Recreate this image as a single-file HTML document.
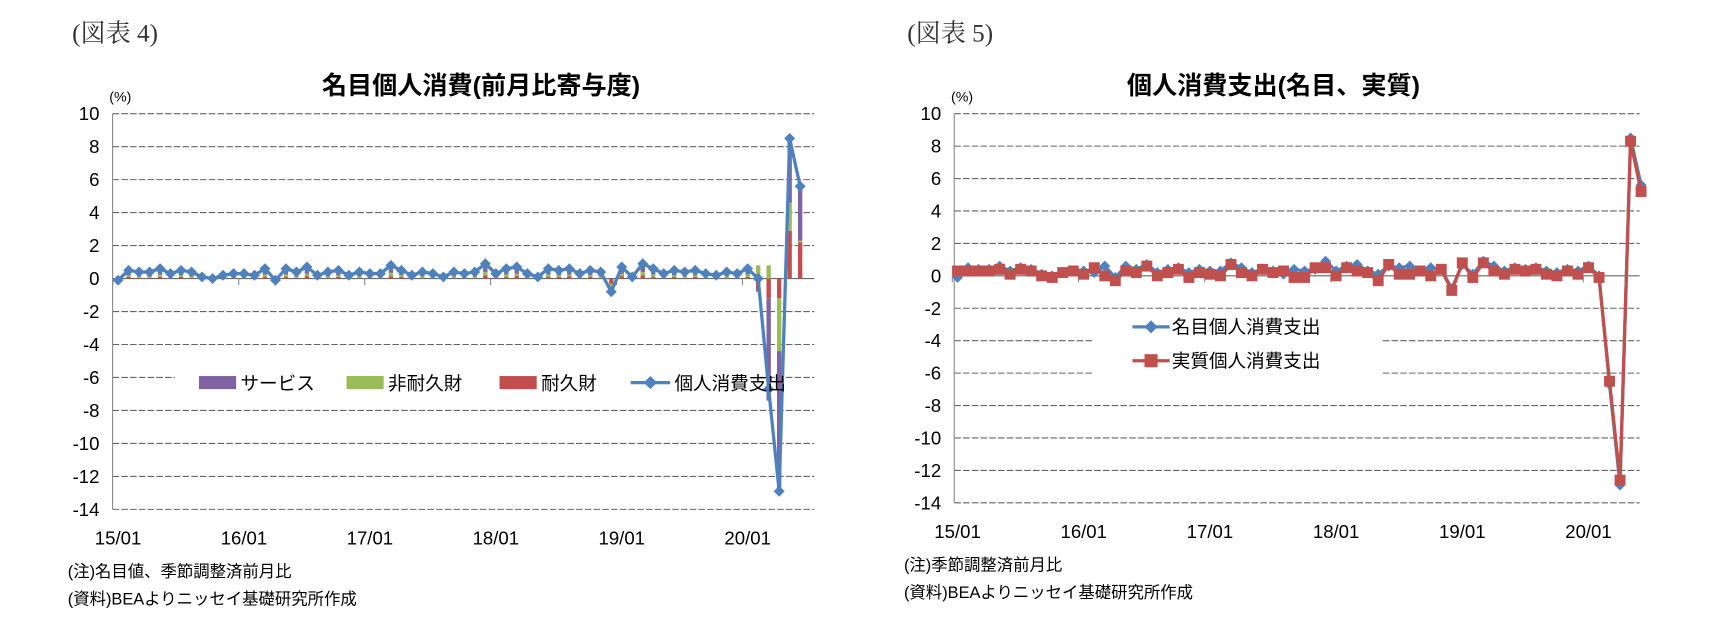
<!DOCTYPE html>
<html><head><meta charset="utf-8">
<style>
body{margin:0;background:#fff;}
svg{display:block;}
text{font-family:"Liberation Sans","Noto Sans CJK JP",sans-serif;}
.serif{font-family:"Liberation Serif","Noto Serif CJK SC",serif;}
</style></head>
<body>
<svg id="root" width="1714" height="627" viewBox="0 0 1714 627">
<rect width="1714" height="627" fill="#fff"/>
<g transform="scale(1.0931)">
<text class="serif" x="66" y="38" font-size="23" fill="#333">(図表 4)</text>
<text class="serif" x="830" y="38" font-size="23" fill="#333">(図表 5)</text>
<text x="440" y="86" font-size="23" font-weight="bold" text-anchor="middle">名目個人消費(前月比寄与度)</text>
<text x="1165" y="86" font-size="23" font-weight="bold" text-anchor="middle">個人消費支出(名目、実質)</text>
<text x="100" y="93" font-size="13">(%)</text>
<text x="870" y="93" font-size="13">(%)</text>
<text x="62" y="528" font-size="15">(注)名目値、季節調整済前月比</text>
<text x="62" y="553" font-size="15">(資料)BEAよりニッセイ基礎研究所作成</text>
<text x="827" y="522" font-size="15">(注)季節調整済前月比</text>
<text x="827" y="547" font-size="15">(資料)BEAよりニッセイ基礎研究所作成</text>
<g id="left"></g>
<g id="right"></g>
</g>
</svg>
<script>
const months = 66;
const yTicks = [10,8,6,4,2,0,-2,-4,-6,-8,-10,-12,-14];
const xLabels = ["15/01","16/01","17/01","18/01","19/01","20/01"];
const nominal = [-0.1,0.5,0.4,0.4,0.6,0.3,0.5,0.4,0.1,0.0,0.2,0.3,
 0.3,0.2,0.6,-0.1,0.6,0.4,0.7,0.2,0.4,0.5,0.2,0.4,
 0.3,0.3,0.8,0.5,0.2,0.4,0.3,0.1,0.4,0.3,0.4,0.9,
 0.3,0.6,0.7,0.3,0.1,0.6,0.5,0.6,0.3,0.5,0.4,-0.8,
 0.7,0.1,0.9,0.6,0.3,0.5,0.4,0.5,0.3,0.2,0.4,0.3,
 0.6,0.0,-6.7,-12.9,8.5,5.6];
const real = [0.3,0.3,0.3,0.3,0.4,0.1,0.4,0.3,0.0,-0.1,0.2,0.3,
 0.1,0.5,0.0,-0.3,0.3,0.2,0.6,0.0,0.2,0.4,-0.1,0.2,
 0.1,0.0,0.7,0.2,0.0,0.4,0.2,0.3,-0.1,-0.1,0.5,0.5,
 0.0,0.5,0.3,0.2,-0.3,0.7,0.1,0.1,0.3,0.0,0.4,-0.9,
 0.8,-0.1,0.8,0.3,0.1,0.4,0.3,0.4,0.1,0.0,0.3,0.1,
 0.5,-0.1,-6.5,-12.6,8.3,5.2];
const services = [-0.05,0.3,0.25,0.25,0.35,0.2,0.3,0.25,0.1,0.05,0.15,0.2,
 0.2,0.15,0.35,0.05,0.35,0.25,0.4,0.15,0.25,0.3,0.15,0.25,
 0.2,0.2,0.45,0.3,0.15,0.25,0.2,0.1,0.25,0.2,0.25,0.5,
 0.2,0.35,0.4,0.2,0.1,0.35,0.3,0.35,0.2,0.3,0.25,-0.3,
 0.4,0.1,0.5,0.35,0.2,0.3,0.25,0.3,0.2,0.15,0.25,0.2,
 0.35,-0.1,-6.2,-8.5,3.9,3.3];
const nondurables = [-0.05,0.1,0.1,0.1,0.15,0.05,0.1,0.1,0.0,-0.05,0.0,0.05,
 0.05,0.0,0.15,-0.1,0.15,0.1,0.15,0.0,0.1,0.1,0.0,0.1,
 0.05,0.05,0.2,0.1,0.0,0.1,0.05,0.0,0.1,0.05,0.1,0.2,
 0.05,0.15,0.15,0.05,0.0,0.15,0.1,0.1,0.05,0.1,0.1,-0.2,
 0.15,0.0,0.2,0.15,0.05,0.1,0.1,0.1,0.05,0.05,0.1,0.05,
 0.15,0.8,0.8,-3.2,1.7,0.1];
const durables = [0.0,0.1,0.05,0.05,0.1,0.05,0.1,0.05,0.0,0.0,0.05,0.05,
 0.05,0.05,0.1,0.0,0.1,0.05,0.15,0.05,0.05,0.1,0.05,0.05,
 0.05,0.05,0.15,0.1,0.05,0.05,0.05,0.0,0.05,0.05,0.05,0.2,
 0.05,0.1,0.15,0.05,0.0,0.1,0.1,0.15,0.05,0.1,0.05,-0.3,
 0.15,0.0,0.2,0.1,0.05,0.1,0.05,0.1,0.05,0.0,0.05,0.05,
 0.1,-0.7,-1.2,-1.2,2.9,2.2];
const NS="http://www.w3.org/2000/svg";
function mk(tag,attrs,parent){const e=document.createElementNS(NS,tag);for(const k in attrs)e.setAttribute(k,attrs[k]);parent.appendChild(e);return e;}
function diamond(x,y,r){return `M${x},${y-r} L${x+r},${y} L${x},${y+r} L${x-r},${y} Z`;}

function axes(g,cfg){
  const yS=v=>cfg.top+(10-v)*(cfg.bottom-cfg.top)/24;
  const xS=i=>cfg.x0+i*cfg.step;
  yTicks.forEach(t=>{
    const l=mk('line',{x1:cfg.left,x2:cfg.right,y1:yS(t),y2:yS(t),stroke:'#666','stroke-width':1,'stroke-dasharray':t===0?'':'6,2'},g);
    
    
    const tx=mk('text',{x:cfg.left-12,y:yS(t)+6,'font-size':17,'text-anchor':'end'},g);
    tx.textContent=t;
    
    
  });
  const ax=mk('line',{x1:cfg.left,x2:cfg.left,y1:cfg.top,y2:cfg.bottom,stroke:'#888'},g);
  
  
  xLabels.forEach((s,k)=>{
    const x=xS(k*12);
    mk('line',{x1:x-cfg.step/2,x2:x-cfg.step/2,y1:yS(0),y2:yS(0)+6,stroke:'#888'},g);
    const tx=mk('text',{x:x,y:cfg.bottom+32,'font-size':17,'text-anchor':'middle'},g);
    tx.textContent=s;
    
    
  });
  return {xS,yS};
}

// left chart
(function(){
  const g=document.getElementById('left');
  const {xS,yS}=axes(g,{left:103,right:745,top:104,bottom:466,x0:108,step:9.6});
  const cols=['#8064a2','#9bbb59','#c0504d'];
  for(let i=0;i<months;i++){
    let pos=0,neg=0;
    [durables[i],nondurables[i],services[i]].forEach((v,k)=>{
      const c=[cols[2],cols[1],cols[0]][k];
      let y0,y1;
      if(v>=0){y0=pos;y1=pos+v;pos=y1;}else{y0=neg;y1=neg+v;neg=y1;}
      const r=mk('rect',{x:xS(i)-2,width:4,y:Math.min(yS(y0),yS(y1)),height:Math.abs(yS(y1)-yS(y0)),fill:c},g);
      
      
    });
  }
  const pts=nominal.map((v,i)=>xS(i)+','+yS(v)).join(' ');
  const pl=mk('polyline',{points:pts,fill:'none',stroke:'#4f81bd','stroke-width':3},g);
  
  
  nominal.forEach((v,i)=>{
    const d=mk('path',{d:diamond(xS(i),yS(v),5),fill:'#4f81bd'},g);
    
    
  });
  const lg=mk('g',{},g);
  
  
  mk('rect',{x:160,y:336,width:535,height:28,fill:'#fff'},lg);
  const items=[['サービス','#8064a2',182],['非耐久財','#9bbb59',317],['耐久財','#c0504d',457]];
  items.forEach(([n,c,x])=>{
    mk('rect',{x:x,y:344,width:34,height:12,fill:c},lg);
    const t=mk('text',{x:x+38,y:357,'font-size':17},lg);
    t.textContent=n;
    
    
  });
  mk('line',{x1:577,x2:613,y1:350,y2:350,stroke:'#4f81bd','stroke-width':3},lg);
  mk('path',{d:diamond(595,350,6),fill:'#4f81bd'},lg);
  const t=mk('text',{x:617,y:357,'font-size':17},lg);
  t.textContent='個人消費支出';
  
  
})();

// right chart
(function(){
  const g=document.getElementById('right');
  const {xS,yS}=axes(g,{left:873,right:1500,top:104,bottom:460,x0:876,step:9.62});
  const p1=mk('polyline',{points:nominal.map((v,i)=>xS(i)+','+yS(v)).join(' '),fill:'none',stroke:'#4f81bd','stroke-width':3},g);
  
  
  nominal.forEach((v,i)=>{
    const d=mk('path',{d:diamond(xS(i),yS(v),5),fill:'#4f81bd'},g);
    
    
  });
  const p2=mk('polyline',{points:real.map((v,i)=>xS(i)+','+yS(v)).join(' '),fill:'none',stroke:'#c0504d','stroke-width':3},g);
  
  
  real.forEach((v,i)=>{
    const r=mk('rect',{x:xS(i)-5,y:yS(v)-5,width:10,height:10,fill:'#c0504d'},g);
    
    
  });
  const lg=mk('g',{},g);
  
  
  mk('rect',{x:1000,y:283,width:265,height:62,fill:'#fff'},lg);
  mk('line',{x1:1036,x2:1070,y1:299,y2:299,stroke:'#4f81bd','stroke-width':3},lg);
  mk('path',{d:diamond(1053,299,6),fill:'#4f81bd'},lg);
  let t=mk('text',{x:1072,y:305,'font-size':17},lg);
  t.textContent='名目個人消費支出';
  
  
  mk('line',{x1:1036,x2:1070,y1:330,y2:330,stroke:'#c0504d','stroke-width':3},lg);
  mk('rect',{x:1047,y:324,width:12,height:12,fill:'#c0504d'},lg);
  t=mk('text',{x:1072,y:336,'font-size':17},lg);
  t.textContent='実質個人消費支出';
  
  
})();
</script>
</body></html>
